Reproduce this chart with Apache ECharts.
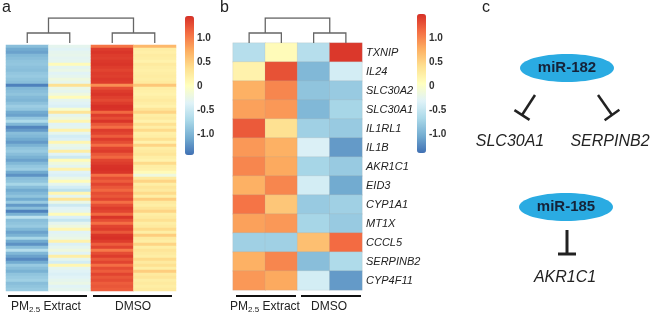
<!DOCTYPE html>
<html>
<head>
<meta charset="utf-8">
<script src="https://cdn.jsdelivr.net/npm/echarts@6/dist/echarts.min.js"></script>
<style>
  html, body { margin: 0; padding: 0; background: #fff; }
  #main { width: 650px; height: 320px; }
</style>
</head>
<body>
<div id="main"></div>
<script>
var aPm1 = [-0.95,-1.10,-1.15,-1.00,-0.95,-0.90,-0.88,-0.92,-0.95,-0.88,
  -0.85,-0.90,-0.95,-1.35,-1.00,-0.95,-0.90,-0.98,-1.02,-0.92,
  -0.82,-0.88,-1.10,-1.15,-0.88,-0.70,-1.00,-1.32,-1.20,-0.95,
  -1.00,-1.10,-1.20,-1.05,-0.90,-0.85,-0.95,-1.05,-1.15,-1.00,
  -0.88,-0.82,-1.10,-1.25,-0.95,-0.90,-0.75,-0.95,-1.10,-1.00,
  -0.90,-1.10,-0.85,-1.20,-0.95,-1.35,-1.05,-0.60,-0.95,-0.90,
  -0.85,-1.00,-1.15,-1.05,-0.75,-1.10,-1.25,-0.95,-0.65,-1.00,
  -1.15,-1.30,-1.10,-0.85,-0.95,-1.05,-0.90,-0.85,-0.80,-0.95,
  -0.90,-0.85];
var aPm2 = [-0.30,-0.35,-0.30,-0.28,-0.32,-0.30,0.05,-0.30,-0.25,-0.35,
  -0.30,-0.20,-0.28,0.35,-0.25,-0.30,-0.20,0.05,-0.30,-0.35,
  -0.40,-0.10,0.30,-0.30,-0.20,0.10,-0.35,-0.30,0.15,-0.30,
  -0.45,-0.40,0.10,-0.25,-0.30,0.20,-0.35,-0.50,0.05,-0.20,
  -0.30,0.15,-0.35,-0.40,-0.25,0.05,-0.30,-0.45,-0.60,0.10,
  -0.30,0.30,-0.25,-0.50,-0.35,-0.30,0.05,-0.40,-0.55,-0.30,
  -0.20,0.10,-0.35,-0.30,-0.25,0.15,-0.40,-0.30,-0.20,-0.35,
  0.20,-0.30,-0.45,0.10,-0.30,-0.35,-0.40,-0.35,-0.30,-0.25,
  -0.35,-0.30];
var aDmso1 = [1.05,1.38,1.42,1.38,1.36,1.40,1.42,1.38,1.33,1.38,
  1.36,1.40,1.38,0.90,1.28,1.38,1.42,1.36,1.30,1.38,
  1.45,1.44,1.12,1.38,1.28,1.42,1.22,1.08,1.38,1.33,
  1.18,1.38,1.28,1.08,1.33,1.38,1.22,1.12,1.33,1.38,
  1.44,1.45,1.42,1.08,1.28,1.18,1.33,1.22,1.12,1.28,
  1.22,1.33,1.08,1.28,1.38,1.33,1.12,1.42,1.28,1.08,
  1.33,1.38,1.22,1.42,1.45,1.38,1.18,1.33,1.02,1.28,
  1.38,1.22,1.33,1.08,1.28,1.18,1.33,1.22,1.28,1.18,
  1.22,1.18];
var aDmso2 = [0.65,0.20,0.18,0.22,0.20,0.15,0.25,0.20,0.18,0.20,
  0.22,0.20,0.25,0.55,0.20,0.18,0.15,0.20,0.25,0.20,
  0.15,0.30,0.45,0.20,0.25,0.15,0.35,0.20,0.40,0.18,
  0.20,0.35,0.15,0.45,0.20,0.25,0.30,0.20,0.15,0.40,
  0.20,0.18,0.05,-0.20,0.25,0.45,0.20,0.30,0.25,0.40,
  0.20,0.50,0.25,0.20,0.30,0.45,0.20,0.25,0.35,0.20,
  0.25,0.40,0.20,0.50,0.25,0.20,0.45,0.20,0.30,0.25,
  0.20,0.40,0.25,0.35,0.20,0.50,0.25,0.30,0.20,0.25,
  0.20,0.25];

// panel b: 13 genes
var genes = ['TXNIP','IL24','SLC30A2','SLC30A1','IL1RL1','IL1B','AKR1C1','EID3','CYP1A1','MT1X','CCCL5','SERPINB2','CYP4F11'];
var bPm1   = [-0.65, 0.15, 0.70, 0.80, 1.20, 0.85, 0.95, 0.70, 1.05, 0.80,-0.80, 0.70, 0.85];
var bPm2   = [ 0.05, 1.25, 0.95, 0.85, 0.35, 0.70, 0.75, 0.95, 0.55, 0.85,-0.80, 0.95, 0.75];
var bDmso1 = [-0.65,-1.00,-0.90,-1.00,-0.80,-0.40,-0.75,-0.45,-0.85,-0.75, 0.60,-0.95,-0.45];
var bDmso2 = [ 1.40,-0.45,-0.85,-0.75,-0.85,-1.20,-0.85,-1.10,-0.80,-0.85, 1.10,-0.70,-1.20];

var samples = ['PM1','PM2','DMSO1','DMSO2'];
var groupLabels = ['{a|PM}{s|2.5}{a| Extract}', 'DMSO'];
var colorbarTicks = [-1.0, -0.5, 0, 0.5, 1.0];

// dendrogram: leaf positions (column centres) and merge heights
var leafPos = [0.5, 1.5, 2.5, 3.5];
var mergeH = 1, rootH = 2.5;

var palette = ['#4070B4','#74ADD1','#ABD9E9','#E0F3F8','#FFFFBF','#FEE090','#FDAE61','#F46D43','#D73027'];

function toCells(cols) {
    var out = [];
    cols.forEach(function(col, c) {
        col.forEach(function(v, r) { out.push([c, r, v]); });
    });
    return out;
}
var rowsA = aPm1.map(function(_, i) { return 'g' + i; });

function dendroLines() {
    var l = leafPos;
    var m1 = (l[0] + l[1]) / 2, m2 = (l[2] + l[3]) / 2;
    return [
        {coords: [[l[0], 0], [l[0], mergeH], [l[1], mergeH], [l[1], 0]]},
        {coords: [[l[2], 0], [l[2], mergeH], [l[3], mergeH], [l[3], 0]]},
        {coords: [[m1, mergeH], [m1, rootH], [m2, rootH], [m2, mergeH]]}
    ];
}

var fontF = 'Liberation Sans, Arial, sans-serif';
function tickFmt(v) {
    if (colorbarTicks.indexOf(v) < 0) return '';
    return v === 0 ? '0' : v.toFixed(1);
}
function cbAxis(gi) {
    return {
        gridIndex: gi, type: 'value', position: 'right', min: -1.5, max: 1.5, interval: 0.5,
        axisLine: {show: false}, axisTick: {show: false}, splitLine: {show: false},
        axisLabel: {margin: 3, fontSize: 10, fontWeight: 'bold', color: '#333', fontFamily: fontF, formatter: tickFmt}
    };
}

var chart = echarts.init(document.getElementById('main'));

var option = {
    backgroundColor: '#fff',
    animation: false,
    textStyle: {fontFamily: fontF},
    grid: [
        {left: 6, top: 45, width: 170, height: 246},
        {left: 233, top: 43, width: 129, height: 247},
        {left: 6, top: 18, width: 170, height: 25},
        {left: 233, top: 18, width: 129, height: 25},
        {left: 185, top: 14, width: 9, height: 144},
        {left: 417, top: 14, width: 9, height: 144}
    ],
    xAxis: [
        {gridIndex: 0, type: 'category', data: samples, show: false},
        {gridIndex: 1, type: 'category', data: samples, show: false},
        {gridIndex: 2, type: 'value', min: 0, max: 4, show: false},
        {gridIndex: 3, type: 'value', min: 0, max: 4, show: false},
        {gridIndex: 4, type: 'value', show: false},
        {gridIndex: 5, type: 'value', show: false}
    ],
    yAxis: [
        {gridIndex: 0, type: 'category', data: rowsA, inverse: true, show: false},
        {gridIndex: 1, type: 'category', data: genes, inverse: true, position: 'right',
            axisLine: {show: false}, axisTick: {show: false},
            axisLabel: {margin: 4, fontSize: 11, fontStyle: 'italic', color: '#222', fontFamily: fontF}},
        {gridIndex: 2, type: 'value', min: 0, max: rootH, show: false},
        {gridIndex: 3, type: 'value', min: 0, max: rootH, show: false},
        cbAxis(4),
        cbAxis(5)
    ],
    visualMap: [
        {type: 'continuous', seriesIndex: 0, min: -1.45, max: 1.45, left: 185, top: 16,
            itemWidth: 9, itemHeight: 139, padding: 0, calculable: false, text: null,
            inRange: {color: palette}},
        {type: 'continuous', seriesIndex: 1, min: -1.45, max: 1.45, left: 417, top: 14,
            itemWidth: 9, itemHeight: 139, padding: 0, calculable: false, text: null,
            inRange: {color: palette}}
    ],
    series: [
        {type: 'heatmap', xAxisIndex: 0, yAxisIndex: 0, data: toCells([aPm1, aPm2, aDmso1, aDmso2]),
            emphasis: {disabled: true}},
        {type: 'heatmap', xAxisIndex: 1, yAxisIndex: 1, data: toCells([bPm1, bPm2, bDmso1, bDmso2]),
            itemStyle: {borderColor: 'rgba(160,160,160,0.35)', borderWidth: 0.5},
            emphasis: {disabled: true}},
        {type: 'lines', coordinateSystem: 'cartesian2d', xAxisIndex: 2, yAxisIndex: 2, polyline: true,
            lineStyle: {color: '#666', width: 1.3, opacity: 1}, data: dendroLines()},
        {type: 'lines', coordinateSystem: 'cartesian2d', xAxisIndex: 3, yAxisIndex: 3, polyline: true,
            lineStyle: {color: '#666', width: 1.3, opacity: 1}, data: dendroLines()}
    ],
    graphic: []
};

// group brackets and labels under the heatmaps
var rich = {a: {fontSize: 12, color: '#222', fontFamily: fontF}, s: {fontSize: 8, color: '#222', fontFamily: fontF, padding: [5, 0, 0, 0]}};
var brackets = [
    {x1: 8, x2: 87, cx: 46}, {x1: 93, x2: 172, cx: 133},
    {x1: 236, x2: 296, cx: 265}, {x1: 301, x2: 361, cx: 329}
];
brackets.forEach(function(b, i) {
    option.graphic.push({type: 'line', shape: {x1: b.x1, y1: 296, x2: b.x2, y2: 296}, style: {stroke: '#111', lineWidth: 2}});
    option.graphic.push({type: 'text', x: b.cx, y: 307, style: {text: groupLabels[i % 2], rich: rich,
        fontSize: 12, fill: '#222', font: '12px ' + fontF, align: 'center', verticalAlign: 'middle'}});
});

// panel letters
[['a', 2, 8], ['b', 220, 8], ['c', 482, 8]].forEach(function(p) {
    option.graphic.push({type: 'text', x: p[1], y: p[2], style: {text: p[0], font: '16px ' + fontF, fill: '#222', verticalAlign: 'middle'}});
});

// panel c: miRNA targets
function ell(cx, cy, label) {
    option.graphic.push({type: 'ellipse', shape: {cx: cx, cy: cy, rx: 47, ry: 14}, style: {fill: '#2AABE2'}});
    option.graphic.push({type: 'text', x: cx, y: cy, style: {text: label, font: 'bold 15px ' + fontF, fill: '#152238', align: 'center', verticalAlign: 'middle'}});
}
function inhib(x1, y1, x2, y2, half, w) {
    var dx = x2 - x1, dy = y2 - y1, len = Math.sqrt(dx * dx + dy * dy);
    var px = -dy / len * half, py = dx / len * half;
    option.graphic.push({type: 'line', shape: {x1: x1, y1: y1, x2: x2, y2: y2}, style: {stroke: '#222', lineWidth: w}});
    option.graphic.push({type: 'line', shape: {x1: x2 - px, y1: y2 - py, x2: x2 + px, y2: y2 + py}, style: {stroke: '#222', lineWidth: w}});
}
function gene(x, y, t) {
    option.graphic.push({type: 'text', x: x, y: y, style: {text: t, font: 'italic 16px ' + fontF, fill: '#222', align: 'center', verticalAlign: 'middle'}});
}
ell(567, 68, 'miR-182');
inhib(535, 95, 522, 115, 9, 2.5);
inhib(598, 95, 612, 115, 9, 2.5);
gene(510, 142, 'SLC30A1');
gene(610, 142, 'SERPINB2');
ell(566, 207, 'miR-185');
inhib(567, 230, 567, 254, 9, 3);
gene(565, 278, 'AKR1C1');

chart.setOption(option);
</script>
</body>
</html>
